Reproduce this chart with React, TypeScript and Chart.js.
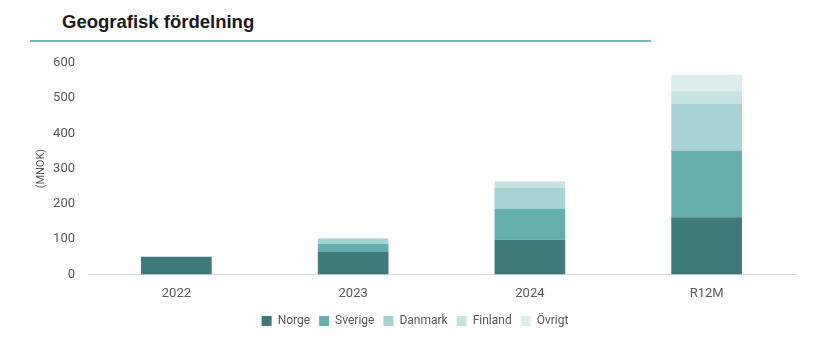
import React, { useEffect, useRef } from "react";
import { Chart, registerables } from "chart.js";

Chart.register(...registerables);

const categories = ["2022", "2023", "2024", "R12M"];
const norge = [50, 65, 98, 162];
const sverige = [0, 21, 88, 189];
const danmark = [0, 15, 59, 133];
const finland = [0, 2, 17, 35];
const ovrigt = [0, 0, 3, 47];
const seriesNames = ["Norge", "Sverige", "Danmark", "Finland", "Övrigt"];
const seriesColors = ["#3e7a7a", "#66afb0", "#a7d3d4", "#c6e3e4", "#dcedee"];
const yTicks = [0, 100, 200, 300, 400, 500, 600];

export default function App() {
  const ref = useRef<HTMLCanvasElement | null>(null);
  useEffect(() => {
    if (!ref.current) return;
    const values = [norge, sverige, danmark, finland, ovrigt];
    const chart = new Chart(ref.current, {
      type: "bar",
      data: {
        labels: categories,
        datasets: values.map((v, i) => ({
          label: seriesNames[i],
          data: v,
          backgroundColor: seriesColors[i],
          borderWidth: 0,
          barPercentage: 0.4,
          categoryPercentage: 1,
        })),
      },
      options: {
        responsive: false,
        animation: false,
        maintainAspectRatio: false,
        layout: { padding: { top: 10, right: 24, left: 35, bottom: 7 } },
        plugins: {
          legend: {
            position: "bottom",
            labels: {
              boxWidth: 10,
              boxHeight: 10,
              padding: 9,
              color: "#595959",
              font: { family: "Roboto", size: 12 },
            },
          },
          tooltip: { enabled: false },
        },
        scales: {
          x: {
            stacked: true,
            grid: { display: false },
            border: { display: true, color: "#d9d9d9", width: 1 },
            ticks: { color: "#595959", font: { family: "Roboto", size: 13 }, padding: 4 },
          },
          y: {
            stacked: true,
            min: 0,
            max: 600,
            afterBuildTicks: (axis: any) => {
              axis.ticks = yTicks.map((v) => ({ value: v }));
            },
            afterFit: (axis: any) => {
              axis.width = 53;
            },
            grid: { display: false },
            border: { display: false },
            ticks: { color: "#595959", font: { family: "Roboto", size: 13 }, padding: 5 },
            title: {
              display: true,
              text: "(MNOK)",
              color: "#595959",
              font: { family: "Roboto", size: 11 },
              padding: { top: 0, bottom: 0 },
            },
          },
        },
      },
    });
    return () => chart.destroy();
  }, []);

  return (
    <div style={{ position: "fixed", left: 0, top: 0, width: 819, height: 344, background: "#fff", overflow: "hidden" }}>
      <div
        style={{
          position: "absolute",
          left: 62,
          top: 11,
          fontFamily: "'Liberation Sans', Arial, sans-serif",
          fontWeight: "bold",
          fontSize: 18.5,
          color: "#1a1a1a",
        }}
      >
        Geografisk fördelning
      </div>
      <div style={{ position: "absolute", left: 30, top: 40, width: 621, height: 2, background: "#79b9b9" }} />
      <canvas ref={ref} width={819} height={294} style={{ position: "absolute", left: 0, top: 50 }} />
    </div>
  );
}
